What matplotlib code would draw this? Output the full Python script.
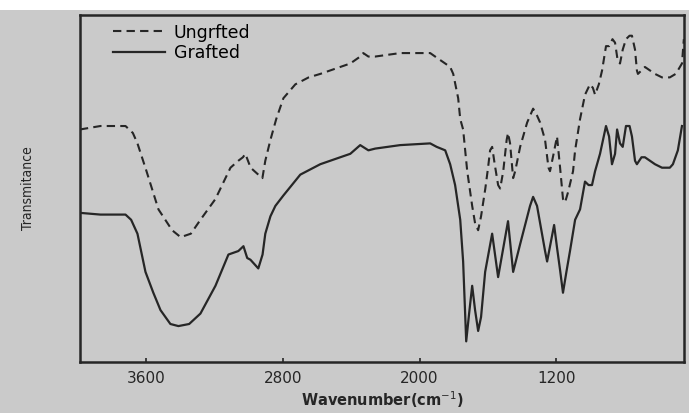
import matplotlib.pyplot as plt
from matplotlib.lines import Line2D
from matplotlib.patches import Rectangle

# FTIR spectra (wavenumber cm-1, transmittance in arbitrary %)
wn_ungrafted = [3990, 3870, 3723, 3680, 3653, 3600, 3530, 3450, 3400, 3340, 3284, 3196,
                3108, 3062, 3035, 3021, 2990, 2945, 2921, 2904, 2874, 2840, 2798, 2728,
                2650, 2582, 2465, 2406, 2348, 2330, 2300, 2260, 2114, 1938, 1909, 1850,
                1821, 1803, 1774, 1762, 1745, 1721, 1692, 1675, 1657, 1640, 1615, 1599,
                1587, 1575, 1560, 1540, 1528, 1510, 1490, 1482, 1470, 1452, 1440, 1411,
                1370, 1335, 1312, 1294, 1265, 1245, 1236, 1215, 1195, 1185, 1177, 1160,
                1148, 1130, 1101, 1089, 1060, 1031, 1002, 985, 972, 950, 931, 908, 890,
                870, 855, 840, 826, 810, 791, 770, 756, 738, 727, 721, 700, 680, 621,
                580, 534, 500, 487, 463, 452]
t_ungrafted = [67, 68, 68, 66, 63, 55, 44, 38, 36, 37, 41, 47,
               56, 58, 59, 60, 56, 54, 53, 58, 64, 70, 76, 80,
               82, 83, 85, 86, 88, 89, 88, 88, 89, 89, 88, 86,
               85, 83, 76, 70, 67, 55, 45, 40, 38, 42, 50, 56,
               61, 62, 57, 51, 50, 55, 64, 66, 63, 53, 55, 62,
               69, 73, 71, 69, 64, 56, 55, 60, 65, 60, 56, 47,
               46, 49, 55, 61, 70, 77, 80, 79, 77, 80, 84, 91, 91,
               93, 92, 87, 86, 90, 93, 94, 94, 90, 84, 83, 84, 85, 83,
               82, 82, 83, 84, 86, 93]

wn_grafted = [3990, 3870, 3723, 3690, 3653, 3606, 3560, 3518, 3460, 3413, 3350, 3284,
              3196, 3120, 3062, 3032, 3010, 2991, 2945, 2920, 2904, 2874, 2845, 2798,
              2699, 2582, 2465, 2406, 2348, 2300, 2260, 2114, 1938, 1900, 1850, 1821,
              1792, 1762, 1745, 1727, 1710, 1692, 1675, 1657, 1640, 1616, 1575, 1540,
              1482, 1452, 1411, 1353, 1335, 1312, 1265, 1253, 1212, 1195, 1177, 1160,
              1140, 1119, 1089, 1060, 1031, 1010, 990, 972, 943, 908, 890, 873, 855,
              843, 826, 810, 791, 770, 756, 738, 727, 700, 680, 621, 580, 534, 516,
              487, 463]
t_grafted = [43, 42.5, 42.5, 41, 37, 26, 20, 15, 11, 10.4, 11, 14,
             22, 31, 32, 33.4, 30, 29.5, 27, 31, 37, 42, 45, 48,
             54, 57, 59, 60, 62.5, 61, 61.5, 62.5, 63, 62, 61, 57,
             51, 41, 29, 6, 14, 22, 15, 9, 13, 26, 37, 24.5,
             40.6, 26, 34, 45, 47.6, 45, 32, 29, 39.5, 33, 26.5, 20,
             26, 32, 41, 44, 52, 51, 51, 55, 60, 68, 65, 57, 60,
             67, 63, 62, 68, 68, 65, 58, 57, 59, 59, 57, 56, 56, 57,
             61, 68]

xticks = [3600, 2800, 2000, 1200]

bg = '#cacaca'
ink = '#262626'

fig = plt.figure(figsize=(6.89, 4.13), dpi=100, facecolor=bg)
# white strip along the top of the scan
fig.patches.append(Rectangle((0, 1 - 10 / 413), 1, 10 / 413, transform=fig.transFigure,
                             facecolor='white', edgecolor='none', zorder=0))
ax = fig.add_axes([0.116, 0.123, 0.877, 0.841], facecolor=bg)

ax.plot(wn_ungrafted, t_ungrafted, color=ink, lw=1.5, ls=(0, (4, 2.5)))
ax.plot(wn_grafted, t_grafted, color=ink, lw=1.6)

ax.set_xlim(3990, 450)
ax.set_ylim(0, 100)
ax.set_xticks(xticks)
ax.set_yticks([])
ax.tick_params(axis='x', direction='in', length=3, width=1.2, colors=ink,
               labelsize=11, pad=6)
for s in ax.spines.values():
    s.set_color(ink)
    s.set_linewidth(1.8)

ax.set_xlabel('Wavenumber(cm$^{-1}$)', fontsize=10.5, fontweight='bold', color=ink,
              labelpad=3)
ax.set_ylabel('Transmitance', fontsize=10, color=ink, labelpad=32,
              fontstretch='condensed')

handles = [Line2D([], [], color=ink, lw=1.5, ls=(0, (4, 2.5))),
           Line2D([], [], color=ink, lw=1.6)]
ax.legend(handles, ['Ungrfted', 'Grafted'], loc='upper left', frameon=False,
          fontsize=12.5, handlelength=3.0, handletextpad=0.5, labelspacing=0.15,
          borderaxespad=0.1, bbox_to_anchor=(0.04, 1.0))

fig.savefig('out.png', dpi=100, facecolor=bg)
